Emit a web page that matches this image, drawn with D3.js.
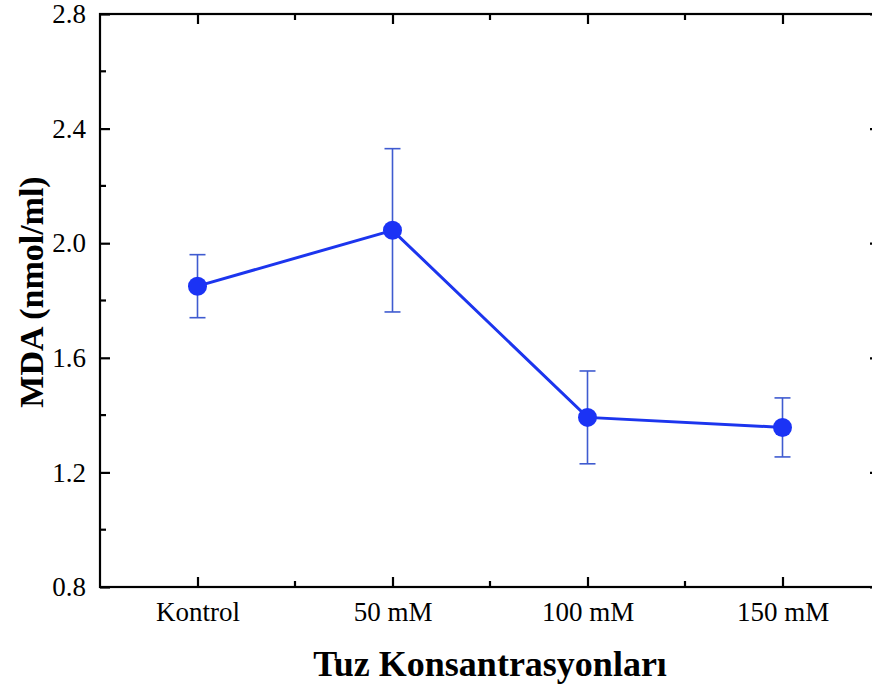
<!DOCTYPE html>
<html><head><meta charset="utf-8">
<script src="https://cdn.jsdelivr.net/npm/d3@7"></script>
<style>body{margin:0;background:#fff}svg{display:block}text{font-family:"Liberation Serif","Times New Roman",serif;fill:#000}</style>
</head><body><svg id="c" width="872" height="688"></svg>
<script>
const categories = ["Kontrol", "50 mM", "100 mM", "150 mM"];
const meanValues = [1.85, 2.045, 1.392, 1.357];
const errorValues = [0.11, 0.285, 0.162, 0.103];
const yTicks = [0.8, 1.2, 1.6, 2.0, 2.4, 2.8];
const yMinorTicks = [1.0, 1.4, 1.8, 2.2, 2.6];

const svg = d3.select("#c");
const L = 100, R = 880, T = 14, B = 587;
const x = d3.scaleLinear().domain([-0.5, 3.5]).range([L, R]);
const y = d3.scaleLinear().domain([0.8, 2.8]).range([B, T]);
const idx = categories.map((d, i) => i);
const xMinor = [0.5, 1.5, 2.5];

const axStroke = 2.2;
// Left axis
const gl = svg.append("g").attr("transform", `translate(${L},0)`)
  .call(d3.axisLeft(y).tickValues(yTicks).tickFormat(d3.format(".1f")).tickSizeInner(-10).tickSizeOuter(0).tickPadding(14));
gl.select(".domain").remove();
gl.selectAll(".tick line").attr("stroke", "#000").attr("stroke-width", axStroke);
gl.selectAll(".tick text").attr("font-size", 27).attr("x", -14);
gl.selectAll(".minor").data(yMinorTicks).enter().append("line")
  .attr("x1", 0).attr("x2", 6).attr("y1", d => y(d)).attr("y2", d => y(d)).attr("stroke", "#000").attr("stroke-width", axStroke);

// Right axis ticks
const gr = svg.append("g").attr("transform", `translate(${R},0)`)
  .call(d3.axisRight(y).tickValues(yTicks).tickFormat("").tickSizeInner(-10).tickSizeOuter(0));
gr.select(".domain").remove();
gr.selectAll(".tick line").attr("stroke", "#000").attr("stroke-width", axStroke);
gr.selectAll(".minor").data(yMinorTicks).enter().append("line")
  .attr("x1", 0).attr("x2", -6).attr("y1", d => y(d)).attr("y2", d => y(d)).attr("stroke", "#000").attr("stroke-width", axStroke);

// Bottom axis
const gb = svg.append("g").attr("transform", `translate(0,${B})`)
  .call(d3.axisBottom(x).tickValues(idx).tickFormat(i => categories[i]).tickSizeInner(-10).tickSizeOuter(0).tickPadding(14));
gb.select(".domain").remove();
gb.selectAll(".tick line").attr("stroke", "#000").attr("stroke-width", axStroke);
gb.selectAll(".tick text").attr("font-size", 27).attr("y", 15);
gb.selectAll(".minor").data(xMinor).enter().append("line")
  .attr("x1", d => x(d)).attr("x2", d => x(d)).attr("y1", 0).attr("y2", -6).attr("stroke", "#000").attr("stroke-width", axStroke);

// Top axis
const gt = svg.append("g").attr("transform", `translate(0,${T})`)
  .call(d3.axisTop(x).tickValues(idx).tickFormat("").tickSizeInner(-10).tickSizeOuter(0));
gt.select(".domain").remove();
gt.selectAll(".tick line").attr("stroke", "#000").attr("stroke-width", axStroke);
gt.selectAll(".minor").data(xMinor).enter().append("line")
  .attr("x1", d => x(d)).attr("x2", d => x(d)).attr("y1", 0).attr("y2", 6).attr("stroke", "#000").attr("stroke-width", axStroke);

// Frame
svg.append("rect").attr("x", L).attr("y", T).attr("width", R - L).attr("height", B - T)
  .attr("fill", "none").attr("stroke", "#000").attr("stroke-width", axStroke);

// Error bars
const eb = svg.append("g").attr("stroke", "#3f5bd0").attr("stroke-width", 1.6).attr("fill", "none");
idx.forEach(i => {
  const cx = x(i), y1 = y(meanValues[i] + errorValues[i]), y2 = y(meanValues[i] - errorValues[i]);
  eb.append("line").attr("x1", cx).attr("x2", cx).attr("y1", y1).attr("y2", y2);
  eb.append("line").attr("x1", cx - 8).attr("x2", cx + 8).attr("y1", y1).attr("y2", y1);
  eb.append("line").attr("x1", cx - 8).attr("x2", cx + 8).attr("y1", y2).attr("y2", y2);
});

// Line
svg.append("path").datum(idx)
  .attr("d", d3.line().x(i => x(i)).y(i => y(meanValues[i])))
  .attr("fill", "none").attr("stroke", "#1c35ee").attr("stroke-width", 3);

// Markers
svg.selectAll("circle.pt").data(idx).enter().append("circle")
  .attr("cx", i => x(i)).attr("cy", i => y(meanValues[i])).attr("r", 9.5).attr("fill", "#1b33f5");

// Titles
svg.append("text").attr("x", 490).attr("y", 676).attr("text-anchor", "middle")
  .attr("font-size", 36).attr("font-weight", "bold").text("Tuz Konsantrasyonları");
svg.append("text").attr("transform", "translate(43,292) rotate(-90)").attr("text-anchor", "middle")
  .attr("font-size", 34).attr("font-weight", "bold").text("MDA (nmol/ml)");
</script></body></html>
